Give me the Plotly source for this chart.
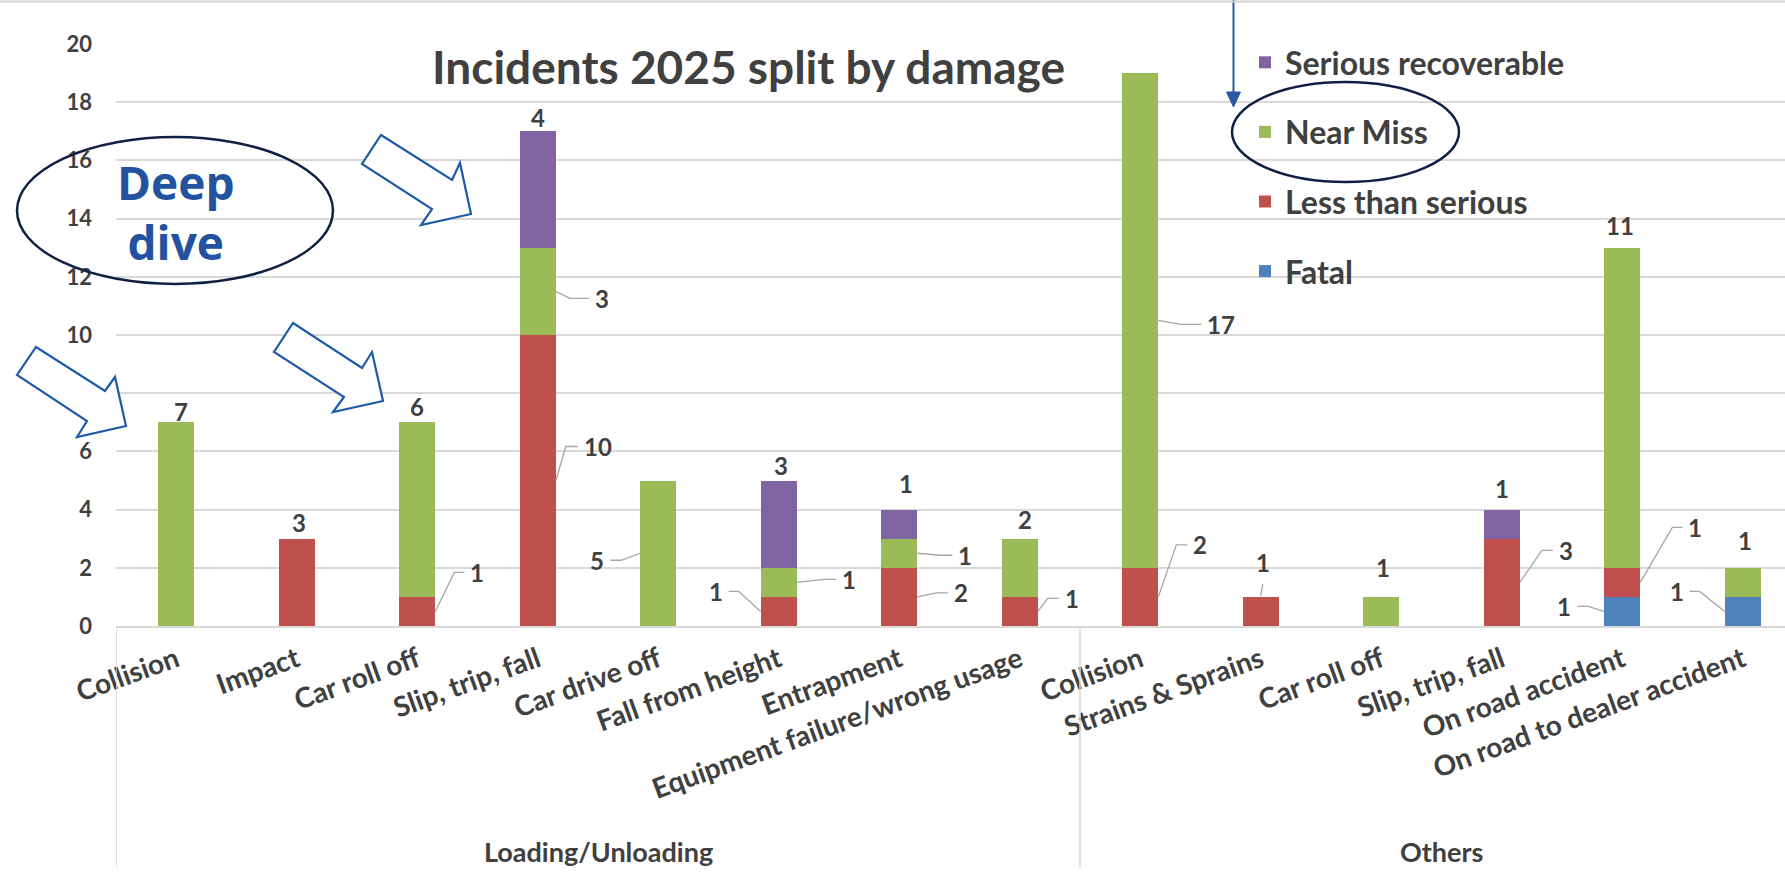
import plotly.graph_objects as go

# ---------------- data ----------------
title_text = "Incidents 2025 split by damage"
group_names = ["Loading/Unloading", "Others"]
groups = ["Loading/Unloading"] * 8 + ["Others"] * 6
categories = ["Collision", "Impact", "Car roll off", "Slip, trip, fall", "Car drive off",
              "Fall from height", "Entrapment", "Equipment failure/wrong usage",
              "Collision", "Strains & Sprains", "Car roll off", "Slip, trip, fall",
              "On road accident", "On road to dealer accident"]
series_names = ["Fatal", "Less than serious", "Near Miss", "Serious recoverable"]
fatal = [0, 0, 0, 0, 0, 0, 0, 0, 0, 0, 0, 0, 1, 1]
less_than_serious = [0, 3, 1, 10, 0, 1, 2, 1, 2, 1, 0, 3, 1, 0]
near_miss = [7, 0, 6, 3, 5, 1, 1, 2, 17, 0, 1, 0, 11, 1]
serious_recoverable = [0, 0, 0, 4, 0, 3, 1, 0, 0, 0, 0, 1, 0, 0]
y_ticks = [0, 2, 4, 6, 8, 10, 12, 14, 16, 18, 20]

series_values = [fatal, less_than_serious, near_miss, serious_recoverable]

# ---------------- styles ----------------
colors = {"Fatal": "#4f81bd", "Less than serious": "#c0504d",
          "Near Miss": "#9bbb59", "Serious recoverable": "#8064a2"}
legend_rank = {"Fatal": 4, "Less than serious": 3, "Near Miss": 2, "Serious recoverable": 1}
TXT = "#404040"
GRID = "#d9d9d9"
FONT = "Lato"
BARGAP = 0.7
HALF = (1 - BARGAP) / 2

# label placement (pixel offsets) per (category index, series)
# ("top", dx, dy) label above the stack; ("side", dx1, dy1, dx2) leader from bar edge
label_place = {
    (0, "Near Miss"): ("top", 5, 11),
    (1, "Less than serious"): ("top", 2, 16),
    (2, "Near Miss"): ("top", 0, 16),
    (2, "Less than serious"): ("side", 19, 39, 29),
    (3, "Serious recoverable"): ("top", 0, 14),
    (3, "Near Miss"): ("side", 14, -7, 33),
    (3, "Less than serious"): ("side", 10, 34, 22),
    (4, "Near Miss"): ("side", -19, -7, -30),
    (5, "Serious recoverable"): ("top", 2, 15),
    (5, "Near Miss"): ("side", 27, 3, 39),
    (5, "Less than serious"): ("side", -22, 20, -32),
    (6, "Serious recoverable"): ("top", 7, 26),
    (6, "Near Miss"): ("side", 23, -2, 35),
    (6, "Less than serious"): ("side", 19, 4, 31),
    (7, "Near Miss"): ("top", 5, 19),
    (7, "Less than serious"): ("side", 10, 13, 21),
    (8, "Near Miss"): ("side", 22, -4, 43),
    (8, "Less than serious"): ("side", 18, 52, 29),
    (9, "Less than serious"): ("topleader", 2, 34),
    (10, "Near Miss"): ("top", 2, 29),
    (11, "Serious recoverable"): ("top", 0, 21),
    (11, "Less than serious"): ("side", 22, 32, 33),
    (12, "Near Miss"): ("top", -2, 22),
    (12, "Less than serious"): ("side", 32, 55, 42),
    (12, "Fatal"): ("side", -16, 5, -27),
    (13, "Near Miss"): ("top", 2, 27),
    (13, "Fatal"): ("side", -25, 20, -35),
}

# ---------------- figure geometry ----------------
FW, FH = 1785, 891
ML, MT = 116, 44
PW, PH = 1669, 582
CAT_W = 120.5
x_idx = list(range(len(categories)))
x_range = [-0.5, -0.5 + PW / CAT_W]


def px(xp):
    return (xp - ML) / PW


def py(yp):
    return (MT + PH - yp) / PH


fig = go.Figure()
for name, vals in zip(series_names, series_values):
    fig.add_trace(go.Bar(
        x=x_idx, y=vals, name=name, marker=dict(color=colors[name], line=dict(width=0)),
        legendgroup=name, legendrank=legend_rank[name],
        customdata=[[g, c] for g, c in zip(groups, categories)],
        hovertemplate="%{customdata[0]} / %{customdata[1]}<br>" + name + ": %{y}<extra></extra>",
    ))

annotations = []
shapes = []

# data labels
for i in x_idx:
    bottom = 0
    total = sum(s[i] for s in series_values)
    for name, vals in zip(series_names, series_values):
        v = vals[i]
        if v == 0:
            continue
        mid = bottom + v / 2
        bottom += v
        spec = label_place.get((i, name))
        if spec is None:
            continue
        if spec[0] in ("top", "topleader"):
            _, dx, dy = spec
            annotations.append(dict(x=i, y=total, xref="x", yref="y", text=str(v), showarrow=False,
                                    xshift=dx, yshift=dy, yanchor="middle", xanchor="center",
                                    font=dict(family=FONT, size=24, color=TXT, weight="bold")))
            if spec[0] == "topleader":
                shapes.append(dict(type="path", xref="x", yref="y", xsizemode="pixel", ysizemode="pixel",
                                   xanchor=i, yanchor=total, path="M0,1 L2,13",
                                   line=dict(color="#a6a6a6", width=1.3)))
        else:
            _, dx1, dy1, dx2 = spec
            edge = i + HALF if dx1 > 0 else i - HALF
            shapes.append(dict(type="path", xref="x", yref="y", xsizemode="pixel", ysizemode="pixel",
                               xanchor=edge, yanchor=mid,
                               path=f"M0,0 L{dx1},{dy1} L{dx2},{dy1}",
                               line=dict(color="#a6a6a6", width=1.3)))
            annotations.append(dict(x=edge, y=mid, xref="x", yref="y", text=str(v), showarrow=False,
                                    xshift=dx2 + (4 if dx2 > 0 else -4), yshift=dy1,
                                    xanchor="left" if dx2 > 0 else "right", yanchor="middle",
                                    font=dict(family=FONT, size=24, color=TXT, weight="bold")))

# group labels & dividers
for gi, g in enumerate(group_names):
    idxs = [i for i, gg in enumerate(groups) if gg == g]
    annotations.append(dict(x=(idxs[0] + idxs[-1]) / 2, y=py(851), xref="x", yref="paper", text=g,
                            showarrow=False, xanchor="center", yanchor="middle",
                            font=dict(family=FONT, size=27, color=TXT, weight="bold")))
    shapes.append(dict(type="line", xref="x", yref="paper", x0=idxs[0] - 0.5, x1=idxs[0] - 0.5,
                       y0=0, y1=py(868), line=dict(color=GRID, width=1.5)))

# title
annotations.append(dict(x=px(748), y=py(67), xref="paper", yref="paper", text=title_text,
                        showarrow=False, xanchor="center", yanchor="middle",
                        font=dict(family=FONT, size=46, color=TXT, weight="bold")))
# Deep dive callout
annotations.append(dict(x=px(176), y=py(212), xref="paper", yref="paper", text="Deep<br>dive",
                        showarrow=False, xanchor="center", yanchor="middle",
                        font=dict(family="Open Sans", size=46, color="#2353a0", weight="bold")))
shapes.append(dict(type="circle", xref="paper", yref="paper", x0=px(17), x1=px(333), y0=py(284), y1=py(137),
                   line=dict(color="#0e2044", width=2.5)))
# Near Miss ellipse
shapes.append(dict(type="circle", xref="paper", yref="paper", x0=px(1232), x1=px(1459), y0=py(182), y1=py(82),
                   line=dict(color="#0e2044", width=2.5)))

# outline arrows
arrows = [
    [(36, 347), (105, 391), (115, 377), (126, 426), (77, 437), (87, 421), (17, 375)],
    [(293, 323), (362, 368), (372, 352), (383, 401), (333, 412), (344, 397), (274, 352)],
    [(381, 135), (452, 180), (460, 163), (471, 214), (421, 225), (432, 209), (362, 164)],
]
for pts in arrows:
    path = "M" + " L".join(f"{px(a):.5f},{py(b):.5f}" for a, b in pts) + " Z"
    shapes.append(dict(type="path", xref="paper", yref="paper", path=path, fillcolor="white",
                       line=dict(color="#1f5aa8", width=2.2)))

# vertical arrow pointing to Near Miss
shapes.append(dict(type="line", xref="paper", yref="paper", x0=px(1233.5), x1=px(1233.5), y0=py(0), y1=py(95),
                   line=dict(color="#2759a6", width=2)))
shapes.append(dict(type="path", xref="paper", yref="paper",
                   path=f"M{px(1226.5)},{py(92)} L{px(1240.5)},{py(92)} L{px(1233.5)},{py(107)} Z",
                   fillcolor="#2759a6", line=dict(color="#2759a6", width=1)))

# top border line of chart area
shapes.append(dict(type="line", xref="paper", yref="paper", x0=px(0), x1=px(FW), y0=py(1.5), y1=py(1.5),
                   line=dict(color="#d0d0d0", width=2)))

fig.update_layout(
    width=FW, height=FH, barmode="stack", bargap=BARGAP,
    margin=dict(l=ML, r=FW - ML - PW, t=MT, b=FH - MT - PH, pad=0),
    plot_bgcolor="white", paper_bgcolor="white",
    font=dict(family=FONT, color=TXT),
    showlegend=True,
    legend=dict(x=px(1245), y=py(35), xanchor="left", yanchor="top", traceorder="grouped",
                tracegroupgap=25, bgcolor="rgba(0,0,0,0)",
                font=dict(family=FONT, size=32, color=TXT, weight="bold")),
    xaxis=dict(range=x_range, tickmode="array", tickvals=x_idx, ticktext=categories, tickangle=-20,
               showgrid=False, zeroline=False, showline=True, linecolor=GRID, linewidth=1.5,
               tickfont=dict(family=FONT, size=28, color=TXT, weight="bold"),
               ticks="", ticklabelstandoff=5, fixedrange=True),
    yaxis=dict(range=[0, 20], tickmode="array", tickvals=y_ticks, showgrid=True, gridcolor=GRID,
               gridwidth=1.5, zeroline=False, showline=False, ticks="", ticklabelstandoff=23,
               tickfont=dict(family=FONT, size=22, color=TXT, weight="bold"), fixedrange=True),
    annotations=annotations, shapes=shapes,
)

fig.write_html("out.html", config={"displayModeBar": False},
               post_script="document.body.style.margin='0';document.body.style.overflow='hidden';")
